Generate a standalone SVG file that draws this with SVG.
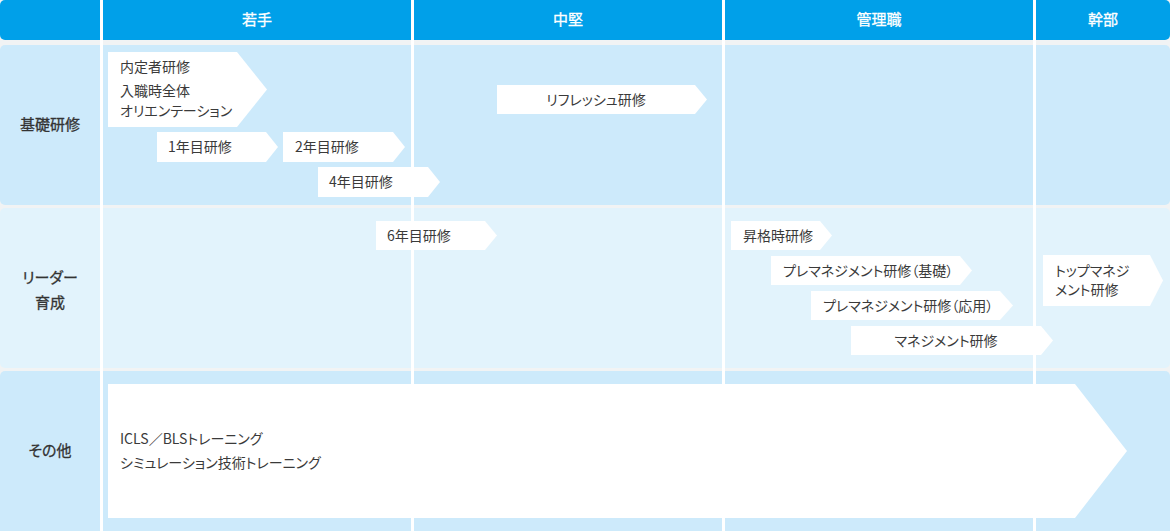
<svg xmlns="http://www.w3.org/2000/svg" width="1170" height="531" viewBox="0 0 1170 531">
<style>
text{font-family:"Noto Sans CJK JP","Noto Sans",sans-serif;font-feature-settings:"palt" 1;}
.hd{fill:#ffffff;stroke:#ffffff;stroke-width:0.3px;font-size:15px;font-weight:400;text-anchor:middle;}
.rl{fill:#333333;stroke:#333333;stroke-width:0.3px;font-size:15px;font-weight:400;text-anchor:middle;}
.t{fill:#3a3a3a;font-size:14px;}
.c{text-anchor:middle;}
.arrow{fill:#ffffff;}
.sep{fill:#ffffff;}
</style>
<rect width="1170" height="531" fill="#f1f3f4"/>
<g id="rows">
<rect x="0" y="0" width="1170" height="40" rx="5" fill="#00a0e9"/>
<rect x="0" y="45" width="1170" height="160" rx="5" fill="#cdeafb"/>
<rect x="0" y="208" width="1170" height="160" rx="5" fill="#e2f3fc"/>
<rect x="0" y="371" width="1170" height="165" rx="5" fill="#cdeafb"/>
</g>
<g id="separators">
<rect class="sep" x="100" y="0" width="3" height="531"/>
<rect class="sep" x="411" y="0" width="3" height="531"/>
<rect class="sep" x="722" y="0" width="3" height="531"/>
<rect class="sep" x="1033" y="0" width="3" height="531"/>
</g>
<g id="headers">
<text class="hd" x="257" y="25">若手</text>
<text class="hd" x="568" y="25">中堅</text>
<text class="hd" x="879" y="25">管理職</text>
<text class="hd" x="1103" y="25">幹部</text>
</g>
<g id="row-labels">
<text class="rl" x="50" y="130">基礎研修</text>
<text class="rl" x="50" y="283">リーダー</text>
<text class="rl" x="50" y="308">育成</text>
<text class="rl" x="50" y="456">その他</text>
</g>
<g id="connectors"></g>
<g id="node-naitei">
<polygon class="arrow" points="108,52 237,52 267,89.5 237,127 108,127"/>
<text class="t" x="120" y="72">内定者研修</text>
<text class="t" x="120" y="96">入職時全体</text>
<text class="t" x="120" y="116">オリエンテーション</text>
</g>
<g id="node-y1">
<polygon class="arrow" points="157,132 266,132 278,147 266,162 157,162"/>
<text class="t" x="168" y="152">1年目研修</text>
</g>
<g id="node-y2">
<polygon class="arrow" points="283,132 393,132 405,147 393,162 283,162"/>
<text class="t" x="295" y="152">2年目研修</text>
</g>
<g id="node-y4">
<polygon class="arrow" points="318,167 428,167 440,182 428,197 318,197"/>
<text class="t" x="329" y="187">4年目研修</text>
</g>
<g id="node-refresh">
<polygon class="arrow" points="497,85 695,85 707,99.5 695,114 497,114"/>
<text class="t c" x="596" y="104.5">リフレッシュ研修</text>
</g>
<g id="node-y6">
<polygon class="arrow" points="376,221 485,221 497,235.5 485,250 376,250"/>
<text class="t" x="387" y="240.5">6年目研修</text>
</g>
<g id="node-shokaku">
<polygon class="arrow" points="731,221 820,221 832,235.5 820,250 731,250"/>
<text class="t" x="743" y="240.5">昇格時研修</text>
</g>
<g id="node-pre-kiso">
<polygon class="arrow" points="771,256 960,256 972,270.5 960,285 771,285"/>
<text class="t" x="783" y="275.5">プレマネジメント研修（基礎）</text>
</g>
<g id="node-pre-oyo">
<polygon class="arrow" points="811,291 1000,291 1013,305.5 1000,320 811,320"/>
<text class="t" x="823" y="310.5">プレマネジメント研修（応用）</text>
</g>
<g id="node-mgmt">
<polygon class="arrow" points="851,326 1041,326 1053,340.5 1041,355 851,355"/>
<text class="t c" x="946" y="345.5">マネジメント研修</text>
</g>
<g id="node-top">
<polygon class="arrow" points="1043,255 1150,255 1163,280.5 1150,306 1043,306"/>
<text class="t" x="1055" y="276">トップマネジ</text>
<text class="t" x="1055" y="295">メント研修</text>
</g>
<g id="node-other">
<polygon class="arrow" points="108,384 1075,384 1127,451 1075,518 108,518"/>
<text class="t" x="120" y="444">ICLS／BLSトレーニング</text>
<text class="t" x="120" y="468">シミュレーション技術トレーニング</text>
</g>
</svg>
